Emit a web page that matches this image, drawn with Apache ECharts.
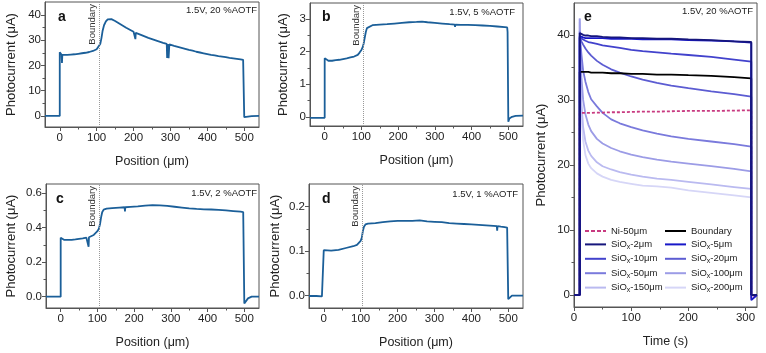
<!DOCTYPE html>
<html>
<head>
<meta charset="utf-8">
<script src="https://cdn.jsdelivr.net/npm/echarts@6/dist/echarts.min.js"></script>
<style>
html,body{margin:0;padding:0;background:#fff;}
#main{width:766px;height:353px;}
</style>
</head>
<body>
<div id="main"></div>
<script>
// line scans (a-d): position in um, photocurrent in uA
var posA = [-40,-20,0,0,2,5,6,7,10,20,30,40,50,60,70,80,90,95,100,105,110,113,116,120,125,130,135,140,145,150,160,170,180,190,200,204,205,206,210,220,230,240,250,260,270,280,290,291,293,295,297,300,310,320,330,340,350,360,370,380,390,400,410,420,430,440,450,460,470,480,490,497,499,500,502,510,520,540];
var curA = [0,0,0,25.2,24.5,24.2,21,24.2,24.1,24.2,24.3,24.4,24.6,24.8,25.0,25.3,25.7,26.0,26.4,27.1,28.6,30.8,33.6,35.9,37.4,38.2,38.4,38.3,38.0,37.6,36.7,35.8,34.9,34.1,33.3,33.0,30.4,32.9,32.7,32.1,31.5,30.9,30.4,29.9,29.4,28.9,28.5,22.9,28.4,22.8,28.3,28.1,27.7,27.3,26.9,26.5,26.1,25.8,25.4,25.1,24.8,24.5,24.2,24.0,23.7,23.5,23.3,23.0,22.8,22.6,22.4,22.2,22.0,-0.5,-0.6,-0.3,-0.1,0];

var posB = [-40,-20,0,0,3,10,20,30,40,50,60,70,80,90,95,100,103,106,109,112,115,120,130,150,170,190,210,230,250,265,280,300,320,340,354,355,356,370,390,410,430,450,470,490,497,498,500,503,510,520,540];
var curB = [-0.03,-0.03,-0.03,1.8,1.76,1.72,1.72,1.74,1.75,1.77,1.79,1.82,1.85,1.9,1.97,2.05,2.12,2.24,2.42,2.6,2.72,2.78,2.81,2.83,2.84,2.86,2.88,2.9,2.91,2.92,2.9,2.88,2.86,2.84,2.83,2.76,2.83,2.82,2.82,2.81,2.8,2.79,2.77,2.75,2.74,2.6,-0.15,-0.05,0.0,0.03,0.04];

var posC = [-40,-20,0,0,3,10,20,30,40,50,60,70,75,76,77,80,90,95,100,104,107,110,113,117,125,140,160,174,175,176,190,210,230,250,270,290,310,330,350,370,390,410,430,450,470,490,497,500,503,510,520,540];
var curC = [0,0,0,0.342,0.335,0.329,0.329,0.33,0.332,0.335,0.338,0.342,0.345,0.29,0.345,0.349,0.358,0.366,0.38,0.395,0.42,0.46,0.49,0.505,0.511,0.514,0.517,0.519,0.495,0.519,0.521,0.524,0.528,0.531,0.53,0.527,0.522,0.517,0.512,0.509,0.507,0.506,0.504,0.501,0.497,0.493,0.491,-0.04,-0.03,-0.01,0,0];

var posD = [-40,-20,-5,0,0,5,20,40,60,80,90,95,100,103,106,109,113,120,140,160,180,200,220,240,260,280,300,320,340,360,380,400,420,440,460,469,470,471,480,490,497,500,503,510,540];
var curD = [-0.001,-0.001,-0.002,-0.002,0.102,0.1,0.101,0.103,0.107,0.111,0.114,0.117,0.123,0.13,0.145,0.155,0.16,0.162,0.163,0.165,0.167,0.168,0.168,0.168,0.169,0.167,0.166,0.165,0.163,0.162,0.161,0.16,0.159,0.158,0.157,0.156,0.146,0.156,0.155,0.154,0.153,-0.008,-0.004,0,0];

var boundaryPos = [108, 105, 105, 105];

// transients (e): time in s, photocurrent in uA
var timeE = [0,10,10,11,13,16,20,25,30,40,50,65,80,100,120,145,170,200,240,280,310,310,320];
var niE   = [0,0,28.0,28.0,28.0,28.0,28.0,28.0,28.0,28.05,28.05,28.1,28.1,28.15,28.2,28.2,28.25,28.3,28.3,28.35,28.4,-0.5,0];
var bndE  = [0,0,34.3,34.3,34.3,34.3,34.3,34.3,34.2,34.2,34.2,34.1,34.1,34.0,34.0,33.9,33.9,33.8,33.7,33.5,33.3,0,0];
var s2E   = [0,0,40.3,40.2,40.1,40.0,39.9,39.9,39.8,39.8,39.7,39.6,39.6,39.5,39.5,39.4,39.4,39.3,39.2,39.0,38.9,0,0];
var s5E   = [0,0,39.8,39.7,39.6,39.6,39.5,39.5,39.5,39.5,39.5,39.4,39.4,39.4,39.3,39.3,39.3,39.2,39.1,39.0,38.8,-0.8,0];
var s10E  = [0,0,39.6,39.6,39.5,39.3,39.1,38.9,38.8,38.6,38.4,38.2,38.0,37.7,37.5,37.3,37.1,36.9,36.6,36.2,35.9,0,0];
var s20E  = [0,0,39.6,39.4,39.0,38.5,37.9,37.3,36.8,36.0,35.4,34.7,34.2,33.6,33.1,32.6,32.2,31.8,31.3,30.9,30.5,0,0];
var s50E  = [0,0,40.5,39.0,37.0,34.5,32.8,31.2,30.1,29.0,28.0,27.0,26.4,25.8,25.3,24.8,24.4,24.0,23.6,23.2,22.8,0,0];
var s100E = [0,0,42.5,38.0,33.5,30.0,27.8,26.2,25.2,24.0,23.3,22.6,22.1,21.6,21.2,20.8,20.5,20.2,19.8,19.4,19.0,0,0];
var s150E = [0,0,42.5,35.0,29.5,25.8,23.6,22.2,21.4,20.4,19.8,19.3,18.9,18.5,18.2,17.9,17.7,17.4,17.0,16.6,16.3,0,0];
var s200E = [0,0,42.0,33.0,27.5,23.8,21.5,20.2,19.5,18.7,18.2,17.7,17.4,17.1,16.8,16.7,16.5,16.1,15.7,15.3,15.0,0,0];

// ticks
var posTicks = [0,100,200,300,400,500];
var posMinor = [50,150,250,350,450];
var yTicksA = [0,10,20,30,40], yMinorA = [5,15,25,35];
var yTicksB = [0,1,2,3], yMinorB = [0.5,1.5,2.5];
var yTicksC = [0,0.2,0.4,0.6], yMinorC = [0.1,0.3,0.5];
var yTicksD = [0,0.1,0.2], yMinorD = [0.05,0.15];
var timeTicks = [0,100,200,300], timeMinor = [50,150,250];
var yTicksE = [0,10,20,30,40], yMinorE = [5,15,25,35];

var FONT = "'Liberation Sans', Arial, sans-serif";
var AX = '#555';
var LINE = '#1b5f99';

function pairs(xs, ys){ return xs.map(function(x,i){ return [x, ys[i]]; }); }

var grids = [
  {left:45, top:2, width:214, height:125},
  {left:310, top:3, width:213, height:123},
  {left:46, top:184, width:213, height:124},
  {left:309, top:184, width:214, height:124},
  {left:574, top:3, width:183, height:304}
];
grids.forEach(function(g){ g.show = true; g.borderColor = AX; g.borderWidth = 1; g.containLabel = false; });

var xAxes = [], yAxes = [];
function addX(gi, min, max, major, minor, name){
  xAxes.push({type:'value', gridIndex:gi, min:min, max:max, position:'bottom',
    name:name, nameLocation:'middle', nameGap:28,
    nameTextStyle:{fontSize:12.5, color:'#222', fontFamily:FONT},
    axisLine:{show:true, onZero:false, lineStyle:{color:AX}},
    axisTick:{show:true, customValues:major, length:4, lineStyle:{color:AX}},
    axisLabel:{customValues:major, fontSize:11.5, color:'#222', margin:5, fontFamily:FONT},
    splitLine:{show:false}});
  xAxes.push({type:'value', gridIndex:gi, min:min, max:max, position:'bottom',
    axisLine:{show:false, onZero:false},
    axisTick:{show:true, customValues:minor, length:2.5, lineStyle:{color:AX}},
    axisLabel:{show:false}, splitLine:{show:false}});
}
function addY(gi, min, max, major, minor, gap, fmt){
  yAxes.push({type:'value', gridIndex:gi, min:min, max:max, position:'left',
    name:'Photocurrent (\u03bcA)', nameLocation:'middle', nameGap:gap,
    nameTextStyle:{fontSize:13, color:'#222', fontFamily:FONT},
    axisLine:{show:true, onZero:false, lineStyle:{color:AX}},
    axisTick:{show:true, customValues:major, length:4, lineStyle:{color:AX}},
    axisLabel:{customValues:major, fontSize:11.5, color:'#222', margin:4, fontFamily:FONT, formatter:fmt},
    splitLine:{show:false}});
  yAxes.push({type:'value', gridIndex:gi, min:min, max:max, position:'left',
    axisLine:{show:false, onZero:false},
    axisTick:{show:true, customValues:minor, length:2.5, lineStyle:{color:AX}},
    axisLabel:{show:false}, splitLine:{show:false}});
}
var f0 = function(v){ return String(Math.round(v)); };
var f1 = function(v){ return v.toFixed(1); };

addX(0, -40, 540, posTicks, posMinor, 'Position (\u03bcm)');
addX(1, -40, 540, posTicks, posMinor, 'Position (\u03bcm)');
addX(2, -40, 540, posTicks, posMinor, 'Position (\u03bcm)');
addX(3, -40, 540, posTicks, posMinor, 'Position (\u03bcm)');
addX(4, 0, 320, timeTicks, timeMinor, 'Time (s)');
addY(0, -4.4, 45.1, yTicksA, yMinorA, 27, f0);
addY(1, -0.28, 3.49, yTicksB, yMinorB, 20, f0);
addY(2, -0.066, 0.654, yTicksC, yMinorC, 28, f1);
addY(3, -0.028, 0.251, yTicksD, yMinorD, 27, f1);
addY(4, -1.85, 44.9, yTicksE, yMinorE, 26, f0);

var series = [];
[[posA,curA],[posB,curB],[posC,curC],[posD,curD]].forEach(function(d, i){
  series.push({type:'line', xAxisIndex:i*2, yAxisIndex:i*2, data:pairs(d[0], d[1]),
    symbol:'none', lineStyle:{color:LINE, width:1.8}, itemStyle:{color:LINE},
    markLine:{silent:true, symbol:['none','none'], animation:false,
      lineStyle:{type:'dotted', color:'#999', width:1},
      label:{show:true, formatter:'Boundary', position:'insideEndTop', fontSize:9.5, color:'#333', distance:2, fontFamily:FONT},
      data:[{xAxis:boundaryPos[i]}]}});
});

var eSeries = [
  ['SiOx-200\u03bcm', s200E, '#d6d6f7', 'solid'],
  ['SiOx-150\u03bcm', s150E, '#babaf0', 'solid'],
  ['SiOx-100\u03bcm', s100E, '#9c9ce6', 'solid'],
  ['SiOx-50\u03bcm', s50E, '#7a7adc', 'solid'],
  ['SiOx-20\u03bcm', s20E, '#5c5cd2', 'solid'],
  ['SiOx-10\u03bcm', s10E, '#4242cc', 'solid'],
  ['Ni-50\u03bcm', niE, '#c83a80', [3,2]],
  ['Boundary', bndE, '#000000', 'solid'],
  ['SiOx-5\u03bcm', s5E, '#1818c8', 'solid'],
  ['SiOx-2\u03bcm', s2E, '#16167c', 'solid']
];
eSeries.forEach(function(s){
  series.push({type:'line', name:s[0], xAxisIndex:8, yAxisIndex:8, data:pairs(timeE, s[1]),
    symbol:'none', lineStyle:{color:s[2], width:1.8, type:s[3]}, itemStyle:{color:s[2]}});
});

function legendFmt(name){
  if (name.indexOf('SiOx') === 0) return '{n|SiO}{s|x}{n|' + name.slice(4) + '}';
  return '{n|' + name + '}';
}
var legendText = {color:'#222', fontFamily:FONT,
  rich:{n:{fontSize:9.5, lineHeight:11, color:'#222', fontFamily:FONT},
        s:{fontSize:7, lineHeight:11, color:'#222', fontFamily:FONT, padding:[5,0,0,0]}}};
var LINE_ICON = 'rect';
var DASH_ICON = 'path://M0,0h4v2h-4z M6,0h4v2h-4z M12,0h4v2h-4z M18,0h3v2h-3z';
function legendItems(names){
  return names.map(function(n){ return {name:n, icon: n.indexOf('Ni') === 0 ? DASH_ICON : LINE_ICON}; });
}

var option = {
  animation:false,
  textStyle:{fontFamily:FONT},
  grid:grids,
  xAxis:xAxes,
  yAxis:yAxes,
  title:[
    {text:'a', left:58, top:10, padding:0, textStyle:{fontSize:14, fontWeight:'bold', color:'#111'}},
    {text:'b', left:322, top:10, padding:0, textStyle:{fontSize:14, fontWeight:'bold', color:'#111'}},
    {text:'c', left:56, top:192, padding:0, textStyle:{fontSize:14, fontWeight:'bold', color:'#111'}},
    {text:'d', left:322, top:192, padding:0, textStyle:{fontSize:14, fontWeight:'bold', color:'#111'}},
    {text:'e', left:584, top:10, padding:0, textStyle:{fontSize:14, fontWeight:'bold', color:'#111'}},
    {text:'1.5V, 20 %AOTF', right:509, top:5, padding:0, textStyle:{fontSize:9.5, fontWeight:'normal', color:'#222'}},
    {text:'1.5V, 5 %AOTF', right:251, top:7, padding:0, textStyle:{fontSize:9.5, fontWeight:'normal', color:'#222'}},
    {text:'1.5V, 2 %AOTF', right:509, top:188, padding:0, textStyle:{fontSize:9.5, fontWeight:'normal', color:'#222'}},
    {text:'1.5V, 1 %AOTF', right:248, top:189, padding:0, textStyle:{fontSize:9.5, fontWeight:'normal', color:'#222'}},
    {text:'1.5V, 20 %AOTF', right:13, top:6, padding:0, textStyle:{fontSize:9.5, fontWeight:'normal', color:'#222'}}
  ],
  legend:[
    {data:legendItems(['Ni-50\u03bcm','SiOx-2\u03bcm','SiOx-10\u03bcm','SiOx-50\u03bcm','SiOx-150\u03bcm']),
     orient:'vertical', left:585, top:226, padding:0, itemGap:2.4, itemWidth:21, itemHeight:2,
     formatter:legendFmt, textStyle:legendText, selectedMode:false},
    {data:legendItems(['Boundary','SiOx-5\u03bcm','SiOx-20\u03bcm','SiOx-100\u03bcm','SiOx-200\u03bcm']),
     orient:'vertical', left:665, top:226, padding:0, itemGap:2.4, itemWidth:21, itemHeight:2,
     formatter:legendFmt, textStyle:legendText, selectedMode:false}
  ],
  series:series
};

var myChart = echarts.init(document.getElementById('main'));
myChart.setOption(option);
</script>
</body>
</html>
